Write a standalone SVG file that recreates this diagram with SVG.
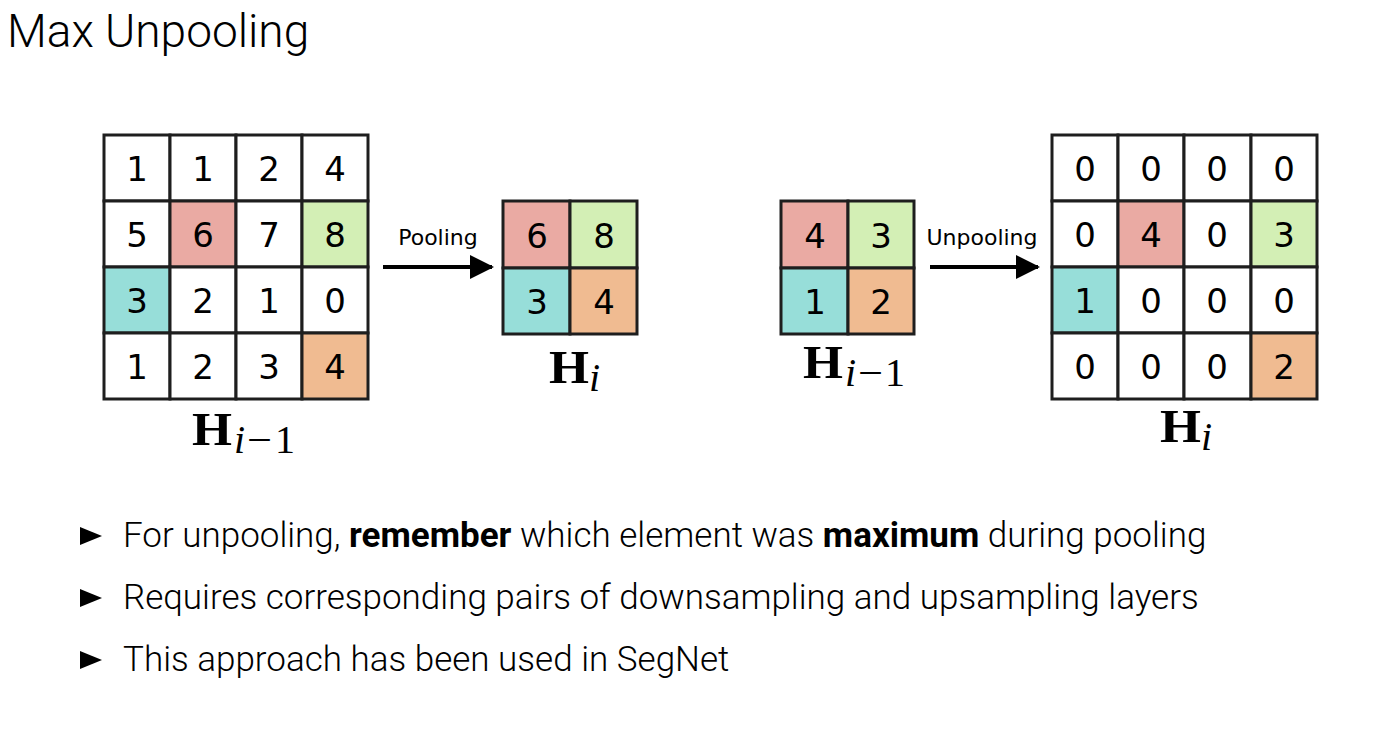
<svg xmlns="http://www.w3.org/2000/svg" width="1373" height="730" viewBox="0 0 1373 730">
<style>
.cell{stroke:#1e1e1e;stroke-width:3}
.w{fill:#ffffff}.r{fill:#eaaaa3}.g{fill:#d3efb5}.t{fill:#97ded9}.o{fill:#f0bb91}
.num{font-family:"DejaVu Sans",sans-serif;font-size:34px;fill:#000;text-anchor:middle}
.lbl{font-family:"DejaVu Sans",sans-serif;font-size:22px;fill:#000;text-anchor:middle}
.H{font-family:"Liberation Serif",serif;font-weight:bold;font-size:46px;fill:#000}
.sub{font-family:"Liberation Serif",serif;font-style:italic;font-size:40px;fill:#000}
.subn{font-family:"Liberation Serif",serif;font-size:40px;fill:#000}
.body{font-family:Roboto,sans-serif;font-weight:300;font-size:35px;fill:#000}
.b{font-weight:bold}
</style>
<defs>
<marker id="ah" markerWidth="6" markerHeight="6" refX="5.5" refY="3" orient="auto" markerUnits="strokeWidth"><path d="M0,0 L6,3 L0,6 Z" fill="#000"/></marker>
</defs>
<rect width="1373" height="730" fill="#fff"/>
<text x="7" y="47" font-family="Roboto,sans-serif" font-weight="300" font-size="46" fill="#000">Max Unpooling</text>

<g id="input-grid">
<rect class="cell w" x="104" y="135" width="66" height="66"/><rect class="cell w" x="170" y="135" width="66" height="66"/><rect class="cell w" x="236" y="135" width="66" height="66"/><rect class="cell w" x="302" y="135" width="66" height="66"/>
<rect class="cell w" x="104" y="201" width="66" height="66"/><rect class="cell r" x="170" y="201" width="66" height="66"/><rect class="cell w" x="236" y="201" width="66" height="66"/><rect class="cell g" x="302" y="201" width="66" height="66"/>
<rect class="cell t" x="104" y="267" width="66" height="66"/><rect class="cell w" x="170" y="267" width="66" height="66"/><rect class="cell w" x="236" y="267" width="66" height="66"/><rect class="cell w" x="302" y="267" width="66" height="66"/>
<rect class="cell w" x="104" y="333" width="66" height="66"/><rect class="cell w" x="170" y="333" width="66" height="66"/><rect class="cell w" x="236" y="333" width="66" height="66"/><rect class="cell o" x="302" y="333" width="66" height="66"/>
<text class="num" x="137" y="181">1</text><text class="num" x="203" y="181">1</text><text class="num" x="269" y="181">2</text><text class="num" x="335" y="181">4</text>
<text class="num" x="137" y="247">5</text><text class="num" x="203" y="247">6</text><text class="num" x="269" y="247">7</text><text class="num" x="335" y="247">8</text>
<text class="num" x="137" y="313">3</text><text class="num" x="203" y="313">2</text><text class="num" x="269" y="313">1</text><text class="num" x="335" y="313">0</text>
<text class="num" x="137" y="379">1</text><text class="num" x="203" y="379">2</text><text class="num" x="269" y="379">3</text><text class="num" x="335" y="379">4</text>
<text class="H" x="192" y="445" textLength="40" lengthAdjust="spacingAndGlyphs">H</text>
<text class="sub" x="234" y="453">i</text>
<text class="subn" x="247" y="453" textLength="25" lengthAdjust="spacingAndGlyphs">−</text>
<text class="subn" x="275" y="453">1</text>
</g>

<g id="pooled-grid">
<rect class="cell r" x="503" y="201" width="67" height="67"/><rect class="cell g" x="570" y="201" width="67" height="67"/>
<rect class="cell t" x="503" y="268" width="67" height="66"/><rect class="cell o" x="570" y="268" width="67" height="66"/>
<text class="num" x="537" y="248">6</text><text class="num" x="604" y="248">8</text>
<text class="num" x="537" y="314">3</text><text class="num" x="604" y="314">4</text>
<text class="H" x="549" y="383" textLength="40" lengthAdjust="spacingAndGlyphs">H</text>
<text class="sub" x="589" y="391">i</text>
</g>

<g id="small-grid">
<rect class="cell r" x="781" y="201" width="67" height="67"/><rect class="cell g" x="848" y="201" width="66" height="67"/>
<rect class="cell t" x="781" y="268" width="67" height="66"/><rect class="cell o" x="848" y="268" width="66" height="66"/>
<text class="num" x="815" y="248">4</text><text class="num" x="881" y="248">3</text>
<text class="num" x="815" y="314">1</text><text class="num" x="881" y="314">2</text>
<text class="H" x="803" y="378" textLength="40" lengthAdjust="spacingAndGlyphs">H</text>
<text class="sub" x="845" y="386">i</text>
<text class="subn" x="858" y="386" textLength="25" lengthAdjust="spacingAndGlyphs">−</text>
<text class="subn" x="885" y="386">1</text>
</g>

<g id="output-grid">
<rect class="cell w" x="1052" y="135" width="66" height="66"/><rect class="cell w" x="1118" y="135" width="66" height="66"/><rect class="cell w" x="1184" y="135" width="67" height="66"/><rect class="cell w" x="1251" y="135" width="66" height="66"/>
<rect class="cell w" x="1052" y="201" width="66" height="66"/><rect class="cell r" x="1118" y="201" width="66" height="66"/><rect class="cell w" x="1184" y="201" width="67" height="66"/><rect class="cell g" x="1251" y="201" width="66" height="66"/>
<rect class="cell t" x="1052" y="267" width="66" height="66"/><rect class="cell w" x="1118" y="267" width="66" height="66"/><rect class="cell w" x="1184" y="267" width="67" height="66"/><rect class="cell w" x="1251" y="267" width="66" height="66"/>
<rect class="cell w" x="1052" y="333" width="66" height="66"/><rect class="cell w" x="1118" y="333" width="66" height="66"/><rect class="cell w" x="1184" y="333" width="67" height="66"/><rect class="cell o" x="1251" y="333" width="66" height="66"/>
<text class="num" x="1085" y="181">0</text><text class="num" x="1151" y="181">0</text><text class="num" x="1217" y="181">0</text><text class="num" x="1284" y="181">0</text>
<text class="num" x="1085" y="247">0</text><text class="num" x="1151" y="247">4</text><text class="num" x="1217" y="247">0</text><text class="num" x="1284" y="247">3</text>
<text class="num" x="1085" y="313">1</text><text class="num" x="1151" y="313">0</text><text class="num" x="1217" y="313">0</text><text class="num" x="1284" y="313">0</text>
<text class="num" x="1085" y="379">0</text><text class="num" x="1151" y="379">0</text><text class="num" x="1217" y="379">0</text><text class="num" x="1284" y="379">2</text>
<text class="H" x="1160" y="442" textLength="41" lengthAdjust="spacingAndGlyphs">H</text>
<text class="sub" x="1201" y="450">i</text>
</g>

<g id="connectors">
<line x1="383" y1="267" x2="492" y2="267" stroke="#000" stroke-width="4" marker-end="url(#ah)"/>
<text class="lbl" x="438" y="245">Pooling</text>
<line x1="930" y1="267" x2="1038" y2="267" stroke="#000" stroke-width="4" marker-end="url(#ah)"/>
<text class="lbl" x="982" y="245">Unpooling</text>
</g>

<g id="bullets">
<polygon points="80,527 102,536 80,545" fill="#000"/>
<polygon points="80,589 102,598 80,607" fill="#000"/>
<polygon points="80,651 102,660 80,669" fill="#000"/>
<text class="body" x="123" y="547">For unpooling, <tspan class="b">remember</tspan> which element was <tspan class="b">maximum</tspan> during pooling</text>
<text class="body" x="123" y="609">Requires corresponding pairs of downsampling and upsampling layers</text>
<text class="body" x="123" y="671">This approach has been used in SegNet</text>
</g>
</svg>
